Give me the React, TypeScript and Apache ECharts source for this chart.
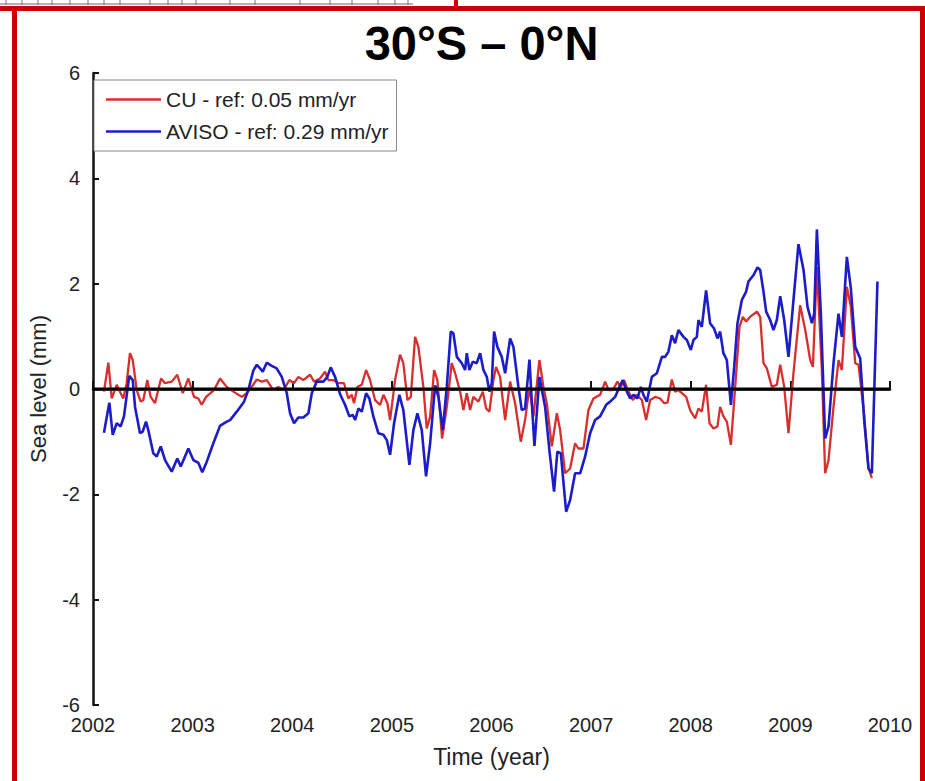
import React, { useEffect, useRef } from "react";
import * as echarts from "echarts";

const titleText = "30°S – 0°N";
const seriesNames = ["CU - ref: 0.05 mm/yr", "AVISO - ref: 0.29 mm/yr"];
const xAxisName = "Time (year)";
const yAxisName = "Sea level (mm)";

const cuYears = [
  2002.110, 2002.154, 2002.188, 2002.238, 2002.278, 2002.304, 2002.338, 2002.371, 2002.399, 2002.439,
  2002.479, 2002.505, 2002.545, 2002.579, 2002.622, 2002.683, 2002.723, 2002.790, 2002.846, 2002.901,
  2002.957, 2003.014, 2003.057, 2003.091, 2003.135, 2003.215, 2003.275, 2003.342, 2003.409, 2003.493,
  2003.543, 2003.593, 2003.644, 2003.694, 2003.744, 2003.810, 2003.860, 2003.911, 2003.971, 2004.018,
  2004.061, 2004.111, 2004.179, 2004.219, 2004.279, 2004.329, 2004.362, 2004.413, 2004.463, 2004.520,
  2004.563, 2004.597, 2004.620, 2004.654, 2004.698, 2004.741, 2004.781, 2004.831, 2004.882, 2004.915,
  2004.955, 2004.982, 2005.032, 2005.082, 2005.115, 2005.156, 2005.190, 2005.233, 2005.266, 2005.316,
  2005.350, 2005.384, 2005.424, 2005.457, 2005.504, 2005.551, 2005.601, 2005.635, 2005.685, 2005.718,
  2005.752, 2005.785, 2005.818, 2005.868, 2005.913, 2005.946, 2005.979, 2006.019, 2006.046, 2006.086,
  2006.137, 2006.187, 2006.237, 2006.294, 2006.337, 2006.381, 2006.421, 2006.481, 2006.521, 2006.555,
  2006.605, 2006.656, 2006.689, 2006.739, 2006.789, 2006.839, 2006.872, 2006.923, 2006.973, 2007.023,
  2007.090, 2007.141, 2007.174, 2007.218, 2007.264, 2007.298, 2007.331, 2007.375, 2007.419, 2007.459,
  2007.509, 2007.552, 2007.592, 2007.643, 2007.693, 2007.733, 2007.766, 2007.810, 2007.843, 2007.876,
  2007.911, 2007.954, 2007.994, 2008.044, 2008.077, 2008.111, 2008.154, 2008.188, 2008.228, 2008.268,
  2008.295, 2008.328, 2008.362, 2008.403, 2008.446, 2008.489, 2008.523, 2008.556, 2008.596, 2008.664,
  2008.697, 2008.730, 2008.764, 2008.814, 2008.864, 2008.898, 2008.938, 2008.981, 2009.031, 2009.098,
  2009.149, 2009.199, 2009.226, 2009.266, 2009.316, 2009.349, 2009.383, 2009.433, 2009.483, 2009.517,
  2009.567, 2009.607, 2009.651, 2009.684, 2009.741, 2009.784, 2009.818,
];
const cuValues = [
  -0.05, 0.5, -0.18, 0.08, -0.08, -0.18, 0.11, 0.68, 0.55, -0.02,
  -0.24, -0.21, 0.17, -0.15, -0.27, 0.2, 0.11, 0.14, 0.27, -0.08,
  0.2, -0.15, -0.18, -0.3, -0.15, -0.02, 0.2, 0.04, -0.05, -0.15,
  -0.08, 0.04, 0.18, 0.14, 0.17, -0.02, 0.04, -0.02, 0.17, 0.11,
  0.23, 0.17, 0.27, 0.14, 0.2, 0.33, 0.17, 0.17, 0.11, 0.11,
  -0.18, -0.11, -0.27, 0.04, 0.08, 0.36, 0.17, -0.21, -0.3, -0.11,
  -0.27, -0.59, 0.17, 0.65, 0.49, -0.21, -0.15, 0.99, 0.8, 0.04,
  -0.75, -0.52, 0.36, 0.17, -0.94, -0.34, 0.49, 0.3, -0.05, -0.4,
  -0.08, -0.4, -0.15, -0.24, -0.05, -0.37, -0.43, 0.17, 0.42, 0.23,
  -0.59, 0.14, -0.27, -1.0, -0.59, 0.04, -0.52, 0.55, 0.04, -0.27,
  -1.09, -0.46, -0.78, -1.6, -1.51, -1.03, -1.13, -1.13, -0.4, -0.18,
  -0.11, 0.14, -0.02, -0.02, 0.14, 0.04, 0.17, -0.05, -0.21, -0.11,
  -0.21, -0.59, -0.21, -0.15, -0.18, -0.27, -0.26, 0.18, -0.05, -0.02,
  -0.08, -0.15, -0.4, -0.56, -0.37, -0.43, 0.08, -0.65, -0.75, -0.71,
  -0.34, -0.52, -0.62, -1.06, 0.04, 1.18, 1.37, 1.28, 1.37, 1.47,
  1.37, 0.49, 0.39, 0.04, 0.08, 0.46, 0.04, -0.84, 0.3, 1.59,
  1.12, 0.55, 0.42, 2.31, 0.36, -1.6, -1.35, -0.34, 0.55, 0.36,
  1.94, 1.56, 0.49, 0.46, -0.5, -1.5, -1.69,
];

const avisoYears = [
  2002.110, 2002.164, 2002.198, 2002.238, 2002.278, 2002.311, 2002.364, 2002.399, 2002.422, 2002.472,
  2002.499, 2002.532, 2002.555, 2002.605, 2002.640, 2002.680, 2002.723, 2002.790, 2002.846, 2002.881,
  2002.957, 2003.007, 2003.057, 2003.097, 2003.142, 2003.208, 2003.275, 2003.342, 2003.376, 2003.443,
  2003.516, 2003.559, 2003.609, 2003.644, 2003.677, 2003.704, 2003.744, 2003.794, 2003.844, 2003.895,
  2003.945, 2003.978, 2004.018, 2004.061, 2004.111, 2004.162, 2004.196, 2004.246, 2004.312, 2004.352,
  2004.386, 2004.430, 2004.480, 2004.530, 2004.573, 2004.607, 2004.631, 2004.664, 2004.698, 2004.741,
  2004.774, 2004.814, 2004.864, 2004.915, 2004.949, 2004.982, 2005.022, 2005.075, 2005.115, 2005.176,
  2005.216, 2005.256, 2005.300, 2005.343, 2005.384, 2005.434, 2005.467, 2005.511, 2005.551, 2005.591,
  2005.617, 2005.652, 2005.702, 2005.735, 2005.752, 2005.778, 2005.812, 2005.852, 2005.886, 2005.919,
  2005.953, 2005.979, 2006.003, 2006.026, 2006.059, 2006.103, 2006.137, 2006.187, 2006.220, 2006.270,
  2006.304, 2006.337, 2006.381, 2006.405, 2006.431, 2006.481, 2006.538, 2006.581, 2006.628, 2006.661,
  2006.696, 2006.749, 2006.789, 2006.839, 2006.890, 2006.940, 2006.990, 2007.040, 2007.090, 2007.151,
  2007.191, 2007.241, 2007.284, 2007.318, 2007.351, 2007.392, 2007.425, 2007.465, 2007.499, 2007.525,
  2007.559, 2007.609, 2007.660, 2007.710, 2007.743, 2007.776, 2007.810, 2007.843, 2007.876, 2007.927,
  2007.961, 2008.001, 2008.027, 2008.061, 2008.077, 2008.111, 2008.154, 2008.194, 2008.234, 2008.268,
  2008.295, 2008.328, 2008.362, 2008.403, 2008.436, 2008.469, 2008.513, 2008.556, 2008.579, 2008.629,
  2008.670, 2008.697, 2008.730, 2008.757, 2008.797, 2008.830, 2008.864, 2008.898, 2008.938, 2008.981,
  2009.025, 2009.081, 2009.132, 2009.172, 2009.216, 2009.239, 2009.266, 2009.306, 2009.349, 2009.383,
  2009.433, 2009.483, 2009.517, 2009.567, 2009.607, 2009.651, 2009.701, 2009.741, 2009.784, 2009.818,
  2009.874,
];
const avisoValues = [
  -0.83, -0.26, -0.87, -0.65, -0.71, -0.52, 0.25, 0.17, -0.34, -0.84,
  -0.81, -0.62, -0.78, -1.22, -1.28, -1.09, -1.35, -1.57, -1.32, -1.47,
  -1.13, -1.35, -1.4, -1.58, -1.38, -1.03, -0.7, -0.62, -0.59, -0.43,
  -0.24, -0.02, 0.35, 0.46, 0.39, 0.33, 0.5, 0.44, 0.39, 0.23,
  -0.08, -0.46, -0.65, -0.54, -0.54, -0.46, -0.08, 0.14, 0.14, 0.23,
  0.41, 0.23, -0.1, -0.3, -0.52, -0.49, -0.59, -0.37, -0.43, -0.08,
  -0.18, -0.52, -0.84, -0.87, -0.97, -1.25, -0.65, -0.11, -0.4, -1.44,
  -0.78, -0.46, -0.78, -1.66, -1.03, 0.07, -0.15, -0.78, 0.04, 1.09,
  1.06, 0.61, 0.49, 0.36, 0.68, 0.36, 0.52, 0.49, 0.68, 0.36,
  0.23, -0.05, 0.11, 1.09, 0.8, 0.61, 0.3, 0.96, 0.8, 0.04,
  -0.4, -0.37, 0.56, -0.27, -1.08, 0.23, -0.34, -1.16, -1.95, -1.19,
  -1.22, -2.33, -2.11, -1.6, -1.6, -1.28, -0.84, -0.59, -0.52, -0.3,
  -0.24, -0.15, 0.04, 0.17, -0.02, -0.18, -0.11, -0.18, 0.04, -0.11,
  -0.24, 0.23, 0.3, 0.61, 0.61, 0.71, 1.02, 0.87, 1.12, 0.99,
  0.93, 0.74, 0.93, 0.99, 1.31, 1.18, 1.87, 1.25, 1.15, 0.96,
  1.09, 0.68, 0.55, -0.3, 0.42, 1.25, 1.69, 1.85, 2.04, 2.16,
  2.31, 2.26, 1.85, 1.47, 1.31, 1.12, 1.31, 1.76, 1.31, 0.61,
  1.56, 2.75, 2.26, 1.56, 1.25, 1.43, 3.03, 1.43, -0.94, -0.71,
  0.49, 1.43, 0.99, 2.51, 1.91, 0.8, 0.58, -0.59, -1.51, -1.6,
  2.04,
];

const zeroLineYears = [2002, 2010];
const zeroLineValues = [0, 0];

const fragmentTicks = [6, 22, 38, 52, 70, 88, 104, 120, 150, 168, 182, 196, 230, 255, 300, 330, 352, 378, 395, 408];

export default function App() {
  const ref = useRef<HTMLDivElement>(null);
  useEffect(() => {
    if (!ref.current) return;
    const chart = echarts.init(ref.current, null, { renderer: "svg" });
    const zip = (xs: number[], ys: number[]) => xs.map((x, i) => [x, ys[i]]);
    const font = "'Liberation Sans', Arial, Helvetica, sans-serif";
    const red = "#d92e2e";
    const blue = "#1c1cc8";
    const frame: any[] = [
      { type: "rect", shape: { x: 0, y: 6, width: 925, height: 5 }, style: { fill: "#cc0000" }, z: 100 },
      { type: "rect", shape: { x: 12, y: 6, width: 5, height: 775 }, style: { fill: "#cc0000" }, z: 100 },
      { type: "rect", shape: { x: 920, y: 6, width: 5, height: 775 }, style: { fill: "#cc0000" }, z: 100 },
      { type: "rect", shape: { x: 454, y: 0, width: 4, height: 6 }, style: { fill: "#cc0000" }, z: 100 },
      { type: "line", shape: { x1: 0, y1: 4, x2: 413, y2: 4 }, style: { stroke: "#666", lineWidth: 1 }, z: 99 },
    ];
    fragmentTicks.forEach((x) => {
      frame.push({ type: "line", shape: { x1: x, y1: 0, x2: x, y2: 5 }, style: { stroke: "#777", lineWidth: 1 }, z: 99 });
    });
    frame.push({
      type: "text",
      x: 481.5,
      y: 43,
      scaleX: 0.98,
      style: {
        text: titleText,
        fontFamily: font,
        fontWeight: "bold",
        fontSize: 48,
        fill: "#000",
        textAlign: "center",
        textVerticalAlign: "middle",
      },
      z: 100,
    });

    chart.setOption({
      animation: false,
      backgroundColor: "#fff",
      textStyle: { fontFamily: font },
      grid: { left: 93, right: 35, top: 73, bottom: 76, containLabel: false },
      legend: {
        data: seriesNames,
        orient: "vertical",
        left: 94,
        top: 80,
        icon: "rect",
        itemWidth: 55,
        itemHeight: 2.5,
        itemGap: 11,
        padding: [9, 8, 9, 12],
        borderColor: "#888",
        borderWidth: 1,
        backgroundColor: "#fff",
        textStyle: { fontSize: 21, color: "#222", fontFamily: font },
      },
      xAxis: {
        type: "value",
        min: 2002,
        max: 2010,
        interval: 1,
        name: xAxisName,
        nameLocation: "middle",
        nameGap: 40,
        nameTextStyle: { fontSize: 23, color: "#222", fontFamily: font },
        axisLine: { lineStyle: { color: "#111", width: 2.5 } },
        axisTick: { inside: true, length: 8, lineStyle: { color: "#111", width: 2 } },
        axisLabel: { fontSize: 20, color: "#222", margin: 10, formatter: (v: number) => String(v) },
        splitLine: { show: false },
      },
      yAxis: {
        type: "value",
        min: -6,
        max: 6,
        interval: 2,
        name: yAxisName,
        nameLocation: "middle",
        nameGap: 44,
        nameTextStyle: { fontSize: 22, color: "#222", fontFamily: font },
        axisLine: { onZero: false, lineStyle: { color: "#111", width: 2.5 } },
        axisTick: { inside: true, length: 6, lineStyle: { color: "#111", width: 2 } },
        axisLabel: { fontSize: 20, color: "#222", margin: 13 },
        splitLine: { show: false },
      },
      graphic: frame,
      series: [
        {
          name: seriesNames[0],
          type: "line",
          data: zip(cuYears, cuValues),
          symbol: "none",
          showSymbol: false,
          lineStyle: { color: red, width: 2.3 },
          itemStyle: { color: red },
          z: 2,
        },
        {
          name: seriesNames[1],
          type: "line",
          data: zip(avisoYears, avisoValues),
          symbol: "none",
          showSymbol: false,
          lineStyle: { color: blue, width: 2.6 },
          itemStyle: { color: blue },
          z: 3,
        },
        {
          name: "zero",
          type: "line",
          data: zip(zeroLineYears, zeroLineValues),
          symbol: "none",
          showSymbol: false,
          silent: true,
          lineStyle: { color: "#000", width: 3 },
          z: 4,
        },
      ],
    });
    return () => chart.dispose();
  }, []);
  return (
    <div
      ref={ref}
      style={{ position: "fixed", left: 0, top: 0, width: 925, height: 781, background: "#fff" }}
    />
  );
}
